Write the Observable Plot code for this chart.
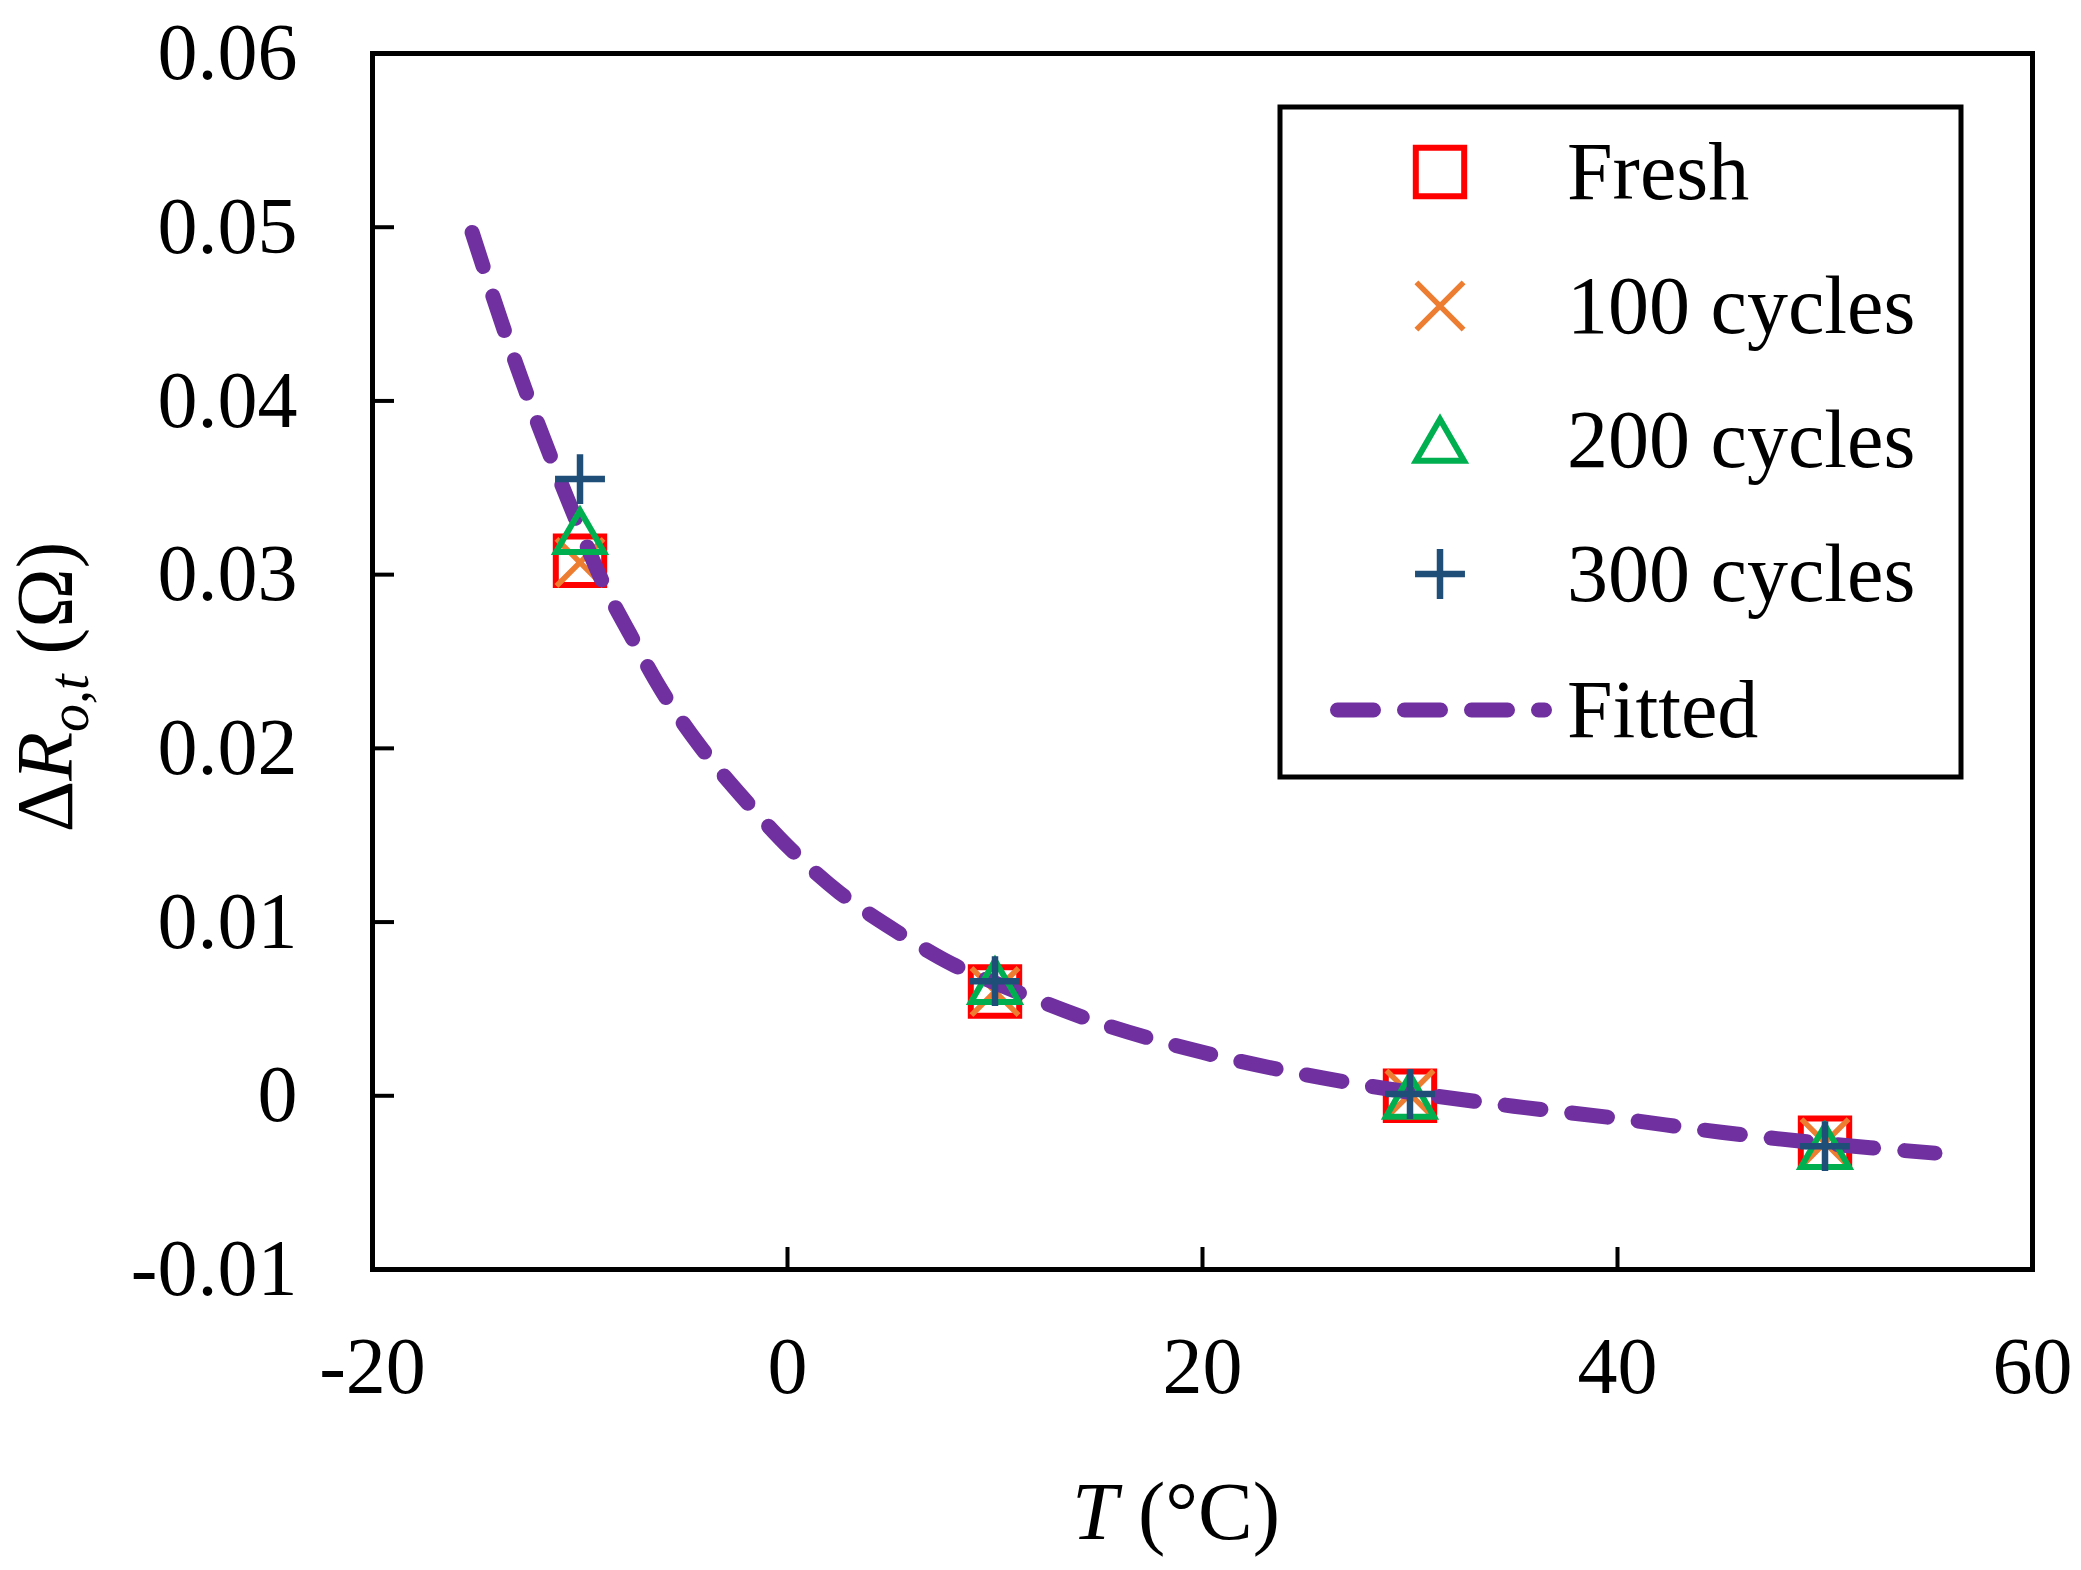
<!DOCTYPE html>
<html>
<head>
<meta charset="utf-8">
<script src="https://cdn.jsdelivr.net/npm/d3@7"></script>
<script src="https://cdn.jsdelivr.net/npm/@observablehq/plot@0.6"></script>
<style>
html, body { margin: 0; padding: 0; background: #ffffff; }
#chart svg { display: block; }
</style>
</head>
<body>
<div id="chart"></div>
<script>
// ---- data ----
const temps = [-10, 10, 30, 50];
const fresh = [0.0308, 0.0060, 0.0000, -0.0027];
const cycles100 = [0.0307, 0.0060, 0.0001, -0.0027];
const cycles200 = [0.0325, 0.0066, 0.0000, -0.0029];
const cycles300 = [0.0355, 0.0066, 0.0001, -0.0029];

const fitT = [-15.2, -13.6, -12, -10, -8.8, -7.6, -6, -4.2, -2.1, 0.15, 2.5, 5.2, 7.9, 10, 15, 20, 25, 30, 35, 40, 45, 50, 55.3];
const fitV = [0.0497, 0.0439, 0.0386, 0.0326, 0.0293, 0.0266, 0.0232, 0.0201, 0.0171, 0.0142, 0.0117, 0.0095, 0.0076, 0.0065, 0.0042, 0.0025, 0.0012, 0.0002, -0.0006, -0.0013, -0.0021, -0.00275, -0.0033];

const xTicks = [-20, 0, 20, 40, 60];
const xTickLabels = ["-20", "0", "20", "40", "60"];
const yTicks = [-0.01, 0, 0.01, 0.02, 0.03, 0.04, 0.05, 0.06];
const yTickLabels = ["-0.01", "0", "0.01", "0.02", "0.03", "0.04", "0.05", "0.06"];

const seriesNames = ["Fresh", "100 cycles", "200 cycles", "300 cycles", "Fitted"];

// ---- tables built from the arrays ----
const toRows = (vals) => temps.map((t, i) => ({T: t, v: vals[i]}));
const fitRows = fitT.map((t, i) => ({T: t, v: fitV[i]}));

const FONT = "Liberation Serif, Times New Roman, serif";
const colors = {fresh: "#FF0000", c100: "#ED7D31", c200: "#00B050", c300: "#1F4E79", fit: "#7030A0"};
const sym = {
  fresh: {symbol: "square", r: 27.3, sw: 6, dy: 0},
  c100: {symbol: "times", r: 21.5, sw: 5.5, dy: 0},
  c200: {symbol: "triangle", r: 17.8, sw: 6, dy: 7},
  c300: {symbol: "plus", r: 16.1, sw: 6.5, dy: 0}
};
const dash = "36,31";
const lineW = 15;

const W = 2081, H = 1570;
const mL = 372, mR = 49, mT = 53, mB = 301;
const plotH = H - mT - mB, plotW = W - mL - mR;
const tickLen = 22;

const dotMark = (rows, key) => Plot.dot(rows, {
  x: "T", y: "v", symbol: sym[key].symbol, r: sym[key].r,
  stroke: colors[key], strokeWidth: sym[key].sw, fill: "none", dy: sym[key].dy,
  strokeLinejoin: "miter"
});

const chart = Plot.plot({
  width: W, height: H,
  marginLeft: mL, marginRight: mR, marginTop: mT, marginBottom: mB,
  style: {fontFamily: FONT, fontSize: "80px", background: "#ffffff", color: "#000000"},
  x: {domain: [-20, 60]},
  y: {domain: [-0.01, 0.06]},
  marks: [
    Plot.axisX(xTicks, {anchor: "bottom", tickSize: 0, tickPadding: 67, fontSize: 80,
      tickFormat: d => xTickLabels[xTicks.indexOf(d)], label: null}),
    Plot.axisY(yTicks, {anchor: "left", tickSize: 0, tickPadding: 75, fontSize: 80,
      tickFormat: d => yTickLabels[yTicks.indexOf(d)], label: null}),
    Plot.tickX(xTicks, {x: d => d, stroke: "#000", strokeWidth: 4, insetTop: plotH - tickLen}),
    Plot.tickY(yTicks, {y: d => d, stroke: "#000", strokeWidth: 4, insetRight: plotW - tickLen}),
    dotMark(toRows(fresh), "fresh"),
    dotMark(toRows(cycles100), "c100"),
    Plot.line(fitRows, {x: "T", y: "v", stroke: colors.fit, strokeWidth: lineW,
      strokeDasharray: dash, strokeLinecap: "round", curve: "catmull-rom"}),
    dotMark(toRows(cycles200), "c200"),
    dotMark(toRows(cycles300), "c300"),
    Plot.frame({stroke: "#000", strokeWidth: 5})
  ]
});

document.getElementById("chart").appendChild(chart);

// ---- axis titles and legend as real SVG text ----
const svg = d3.select(chart);

const yl = svg.append("text")
  .attr("transform", "translate(72,687) rotate(-90)")
  .attr("text-anchor", "middle")
  .attr("font-family", FONT).attr("font-size", 80).attr("fill", "#000");
yl.append("tspan").text("Δ");
yl.append("tspan").attr("font-style", "italic").text("R");
yl.append("tspan").attr("font-style", "italic").attr("font-size", 56).attr("dy", 16).text("o,t");
yl.append("tspan").attr("dy", -16).text(" (Ω)");

const xl = svg.append("text")
  .attr("x", 1176).attr("y", 1539)
  .attr("text-anchor", "middle")
  .attr("font-family", FONT).attr("font-size", 82).attr("fill", "#000");
xl.append("tspan").attr("font-style", "italic").text("T");
xl.append("tspan").text(" (°C)");

// legend
const lg = svg.append("g").attr("text-anchor", "start");
lg.append("rect").attr("x", 1280).attr("y", 107).attr("width", 681).attr("height", 670)
  .attr("fill", "#fff").attr("stroke", "#000").attr("stroke-width", 5);
const d3sym = {square: d3.symbolSquare, times: d3.symbolTimes, triangle: d3.symbolTriangle, plus: d3.symbolPlus};
const keys = ["fresh", "c100", "c200", "c300"];
const rowY = [172, 306, 440, 574, 710];
keys.forEach((k, i) => {
  const s = sym[k];
  lg.append("path")
    .attr("d", d3.symbol().type(d3sym[s.symbol]).size(Math.PI * s.r * s.r)())
    .attr("transform", `translate(1440,${rowY[i] + s.dy})`)
    .attr("fill", "none").attr("stroke", colors[k]).attr("stroke-width", s.sw);
  lg.append("text").attr("x", 1567).attr("y", rowY[i] + 27)
    .attr("text-anchor", "start")
    .attr("font-family", FONT).attr("font-size", 82).attr("fill", "#000")
    .text(seriesNames[i]);
});
lg.append("line").attr("x1", 1337.5).attr("x2", 1544.5).attr("y1", rowY[4]).attr("y2", rowY[4])
  .attr("stroke", colors.fit).attr("stroke-width", lineW)
  .attr("stroke-dasharray", dash).attr("stroke-linecap", "round");
lg.append("text").attr("x", 1567).attr("y", rowY[4] + 27)
  .attr("text-anchor", "start")
  .attr("font-family", FONT).attr("font-size", 82).attr("fill", "#000")
  .text(seriesNames[4]);
</script>
</body>
</html>
